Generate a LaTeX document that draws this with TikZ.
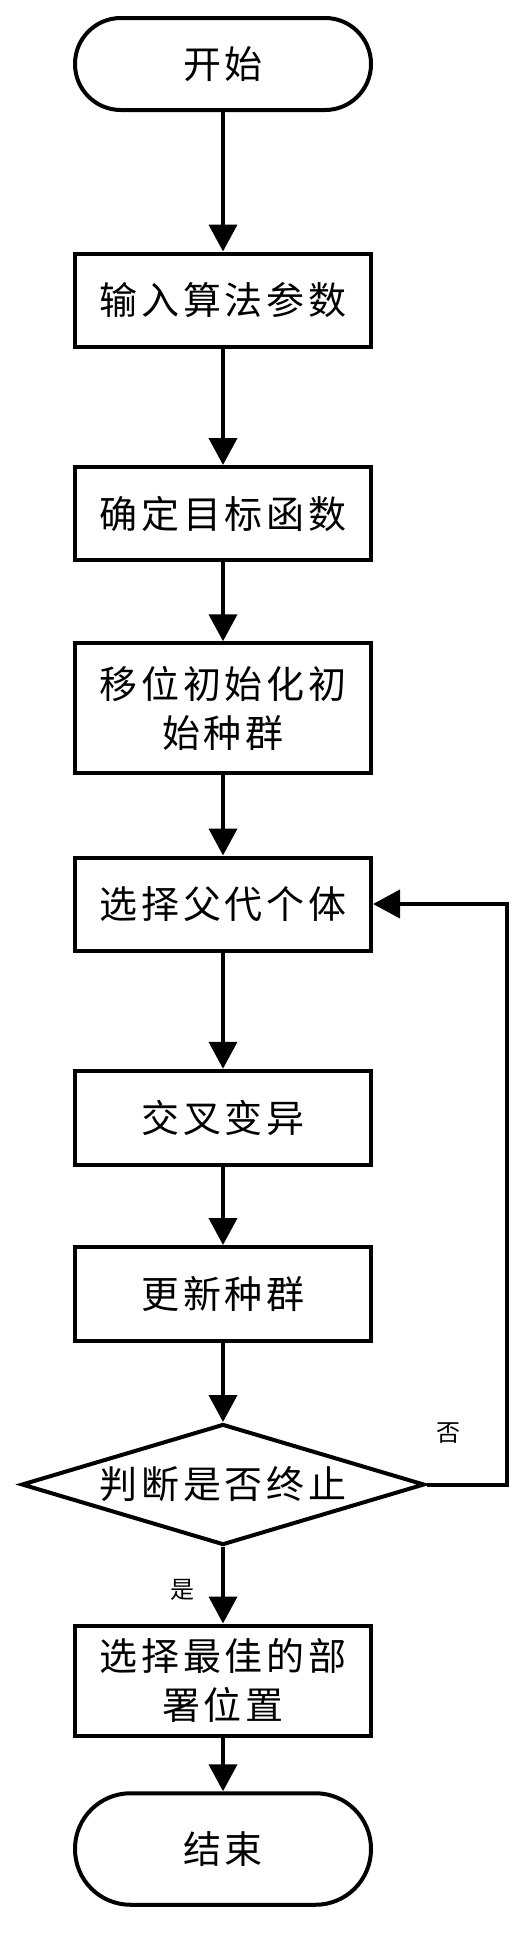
\documentclass[tikz,border=0pt]{standalone}
\usepackage{fontspec}
\newfontfamily\cjk[LetterSpace=10]{Noto Sans CJK SC}
\usetikzlibrary{shapes.geometric,arrows.meta}
\begin{document}
\begin{tikzpicture}[x=1pt,y=-1pt,
  every node/.style={font=\cjk\fontsize{38pt}{49pt}\selectfont},
  box/.style={draw, line width=4pt, minimum width=296pt, inner sep=0pt, align=center},
  term/.style={box, rounded corners=#1},
  dec/.style={draw, line width=4pt, diamond, minimum width=403pt, minimum height=121pt, inner sep=0pt, aspect=3.3},
  arr/.style={line width=4pt, line join=miter, -{Triangle[length=27pt,width=28pt]}},
  lbl/.style={font=\cjk\fontsize{24pt}{28pt}\selectfont}
]
\useasboundingbox (0,0) rectangle (522,1949);

\node[term=45.9pt, minimum height=92pt] (start) at (223,64) {开始};
\node[box, minimum height=93pt] (b1) at (223,300) {输入算法参数};
\node[box, minimum height=93pt] (b2) at (223,513.5) {确定目标函数};
\node[box, minimum height=129.5pt] (b3) at (223,708) {移位初始化初\\始种群};
\node[box, minimum height=93pt] (b4) at (223,904) {选择父代个体};
\node[box, minimum height=94.5pt] (b5) at (223,1118) {交叉变异};
\node[box, minimum height=94pt] (b6) at (223,1294) {更新种群};
\node[dec] (dec) at (223,1484.5) {判断是否终止};
\node[box, minimum height=110pt] (b7) at (223,1680.5) {选择最佳的部\\署位置};
\node[term=55.5pt, minimum height=111.5pt] (end) at (223,1849) {结束};

\node[lbl] (no) at (448,1433) {否};
\node[lbl] (yes) at (182,1590) {是};

\coordinate (c1) at (507,1484.5);
\coordinate (c2) at (507,904);

\draw[arr] (start) -- (b1);
\draw[arr] (b1) -- (b2);
\draw[arr] (b2) -- (b3);
\draw[arr] (b3) -- (b4);
\draw[arr] (b4) -- (b5);
\draw[arr] (b5) -- (b6);
\draw[arr] (b6) -- (dec);
\draw[arr] (dec) -- (b7);
\draw[arr] (b7) -- (end);
\draw[arr] (dec.east) -- (c1) -- (c2) -- (b4.east);
\end{tikzpicture}
\end{document}
